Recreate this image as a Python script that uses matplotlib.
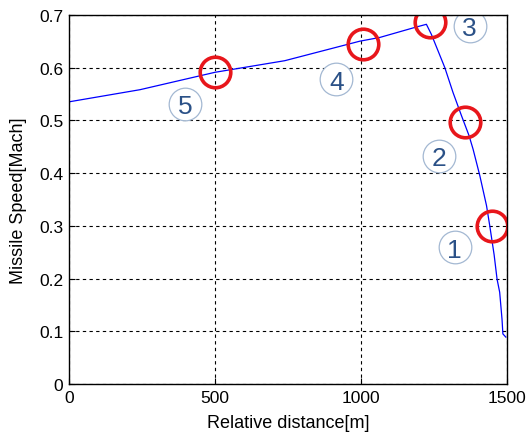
import numpy as np
import matplotlib.pyplot as plt

plt.rcParams['font.family'] = ['Liberation Sans', 'DejaVu Sans']

# missile speed along the flight
dist = [0, 243, 500, 739, 996, 1064, 1184, 1224, 1241, 1287, 1315, 1344,
        1370, 1384, 1407, 1430, 1441, 1456, 1466, 1475, 1483, 1486, 1496]
speed = [0.535, 0.558, 0.591, 0.613, 0.650, 0.657, 0.676, 0.682, 0.663,
         0.600, 0.553, 0.509, 0.471, 0.445, 0.395, 0.338, 0.300, 0.245,
         0.199, 0.174, 0.123, 0.095, 0.089]

# red circles on the curve
mark_x = [1447, 1355, 1236, 1008, 500]
mark_y = [0.300, 0.496, 0.686, 0.645, 0.591]

# circled numbers
lab_text = ['1', '2', '3', '4', '5']
lab_x = [1321, 1267, 1372, 916, 397]
lab_y = [0.259, 0.433, 0.679, 0.578, 0.531]

fig = plt.figure(figsize=(5.27, 4.39), dpi=100)
ax = fig.add_axes([0.131, 0.123, 0.831, 0.841])

ax.plot(dist, speed, color='#0000ff', linewidth=0.9)
ax.plot(mark_x, mark_y, 'o', markersize=22, markerfacecolor='none',
        markeredgecolor='#e8161b', markeredgewidth=2.6)

# light circles behind the numbers
ax.plot(lab_x, lab_y, 'o', markersize=23.5, markerfacecolor='white',
        markeredgecolor='#a3b8d2', markeredgewidth=0.9)
for t, x, y in zip(lab_text, lab_x, lab_y):
    ax.text(x, y, t, fontsize=19, color='#2b5187', ha='center', va='center_baseline')

ax.set_xlim(0, 1500)
ax.set_ylim(0, 0.7)
ax.set_xticks([0, 500, 1000, 1500])
ax.set_yticks([0, 0.1, 0.2, 0.3, 0.4, 0.5, 0.6, 0.7])
ax.set_yticklabels(['0', '0.1', '0.2', '0.3', '0.4', '0.5', '0.6', '0.7'])
ax.grid(True, color='black', linestyle=(0, (3, 3)), linewidth=0.8)
ax.tick_params(direction='in', length=4, labelsize=12.5, colors='black', pad=4)
for s in ax.spines.values():
    s.set_linewidth(1.0)

ax.set_xlabel('Relative distance[m]', fontsize=13, labelpad=7)
ax.set_ylabel('Missile Speed[Mach]', fontsize=13, labelpad=9)

fig.savefig('out.png', dpi=100)
